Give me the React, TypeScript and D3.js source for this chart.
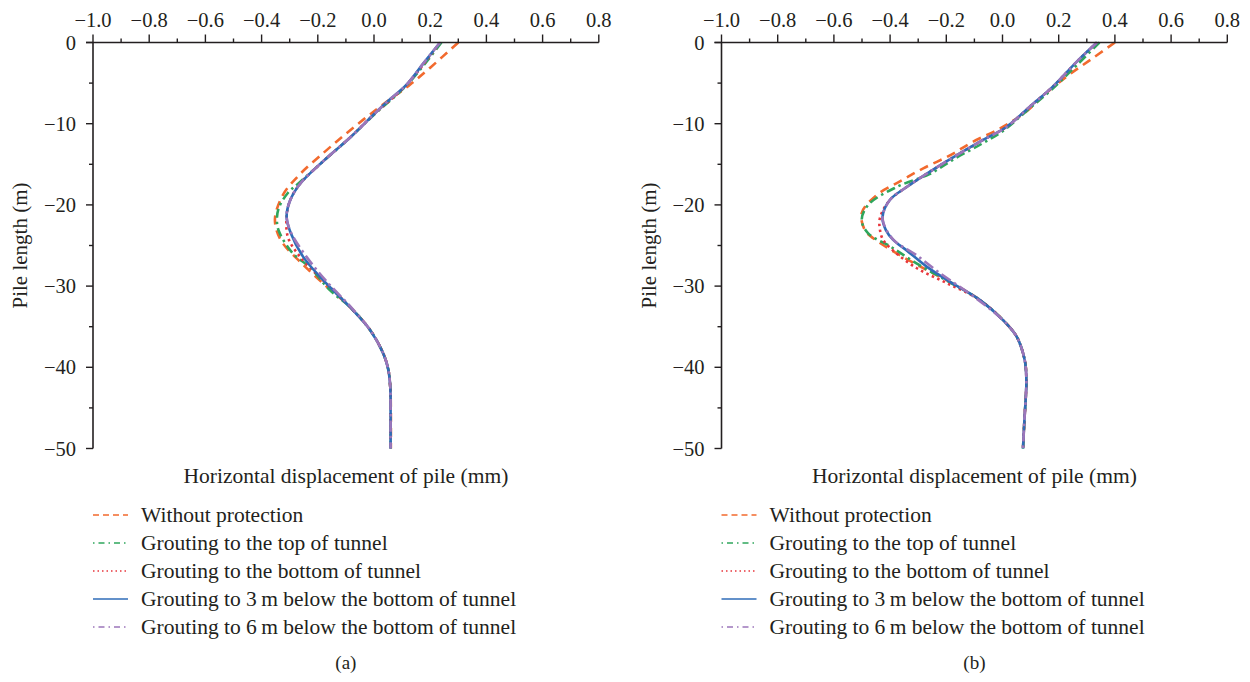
import React from "react";
import * as d3 from "d3";

type P = [number, number]; // [displacement mm, depth m]

// ---------- Panel (a) ----------
const aWithout: P[] = [[0.30,0],[0.2,-3.1],[0.128,-5.2],[0.033,-7.6],[-0.038,-9.5],[-0.109,-11.5],[-0.18,-13.6],[-0.263,-16.2],[-0.323,-18.7],[-0.352,-21.5],[-0.346,-23.2],[-0.323,-24.8],[-0.263,-27],[-0.18,-29.7],[-0.085,-32.6],[-0.014,-35.4],[0.033,-38.3],[0.051,-40.3],[0.058,-42.5],[0.06,-45],[0.06,-50]];
const aTop: P[] = [[0.24,0],[0.118,-5.2],[0.0,-8.9],[-0.085,-11.7],[-0.18,-14.6],[-0.27,-17.4],[-0.306,-18.5],[-0.34,-20.5],[-0.345,-22.3],[-0.334,-23.6],[-0.288,-26],[-0.228,-27.7],[-0.157,-30.5],[-0.085,-32.6],[-0.014,-35.4],[0.033,-38.3],[0.051,-40.3],[0.058,-42.5],[0.059,-45],[0.059,-50]];
const aBottom: P[] = [[0.235,0],[0.116,-5.2],[-0.002,-8.9],[-0.085,-11.7],[-0.18,-14.6],[-0.263,-17.4],[-0.299,-19.5],[-0.311,-21.5],[-0.306,-24],[-0.263,-26.4],[-0.192,-28.9],[-0.085,-32.6],[-0.014,-35.4],[0.033,-38.3],[0.051,-40.3],[0.058,-42.5],[0.059,-45],[0.059,-50]];
const a3m: P[] = [[0.235,0],[0.175,-2.6],[0.116,-5.2],[0.05,-7.2],[-0.002,-8.9],[-0.085,-11.7],[-0.18,-14.6],[-0.263,-17.4],[-0.299,-19.5],[-0.311,-21.5],[-0.296,-23.5],[-0.252,-26.4],[-0.18,-29.3],[-0.085,-32.6],[-0.014,-35.4],[0.033,-38.3],[0.051,-40.3],[0.058,-42.5],[0.059,-45],[0.059,-50]];
const a6m: P[] = [[0.235,0],[0.175,-2.6],[0.116,-5.2],[0.05,-7.2],[-0.002,-8.9],[-0.085,-11.7],[-0.18,-14.6],[-0.263,-17.4],[-0.299,-19.5],[-0.311,-21.5],[-0.294,-23.5],[-0.24,-26.4],[-0.172,-29.3],[-0.082,-32.6],[-0.014,-35.4],[0.033,-38.3],[0.051,-40.3],[0.058,-42.5],[0.059,-45],[0.059,-50]];

// ---------- Panel (b) ----------
const bWithout: P[] = [[0.40,0],[0.31,-2.2],[0.228,-4.2],[0.15,-6.4],[0.085,-8.5],[-0.01,-10.6],[-0.104,-12.2],[-0.187,-13.9],[-0.282,-15.5],[-0.365,-17.1],[-0.448,-18.8],[-0.501,-21],[-0.49,-23.1],[-0.46,-24.1],[-0.365,-26.2],[-0.27,-28],[-0.176,-29.7],[-0.081,-31.7],[0.002,-34.2],[0.05,-36.2],[0.079,-39.1],[0.085,-41.6],[0.083,-43.6],[0.078,-46.5],[0.073,-50]];
const bTop: P[] = [[0.345,0],[0.27,-2.6],[0.175,-5.8],[0.09,-8.3],[0.005,-10.8],[-0.075,-12.5],[-0.17,-14.3],[-0.26,-16.2],[-0.377,-17.8],[-0.478,-20],[-0.501,-21.9],[-0.478,-23.5],[-0.4,-25.1],[-0.306,-27.2],[-0.2,-29.3],[-0.081,-31.7],[0.002,-34.2],[0.05,-36.2],[0.079,-39.1],[0.085,-41.6],[0.083,-43.6],[0.078,-46.5],[0.073,-50]];
const bBottom: P[] = [[0.336,0],[0.269,-2.2],[0.18,-5.4],[0.097,-7.9],[0.014,-10.4],[-0.069,-12],[-0.164,-13.9],[-0.258,-15.9],[-0.341,-17.8],[-0.401,-19.4],[-0.436,-21.6],[-0.436,-23.1],[-0.425,-24.3],[-0.39,-25.6],[-0.305,-27.8],[-0.2,-29.6],[-0.081,-31.7],[0.002,-34.2],[0.05,-36.2],[0.079,-39.1],[0.085,-41.6],[0.083,-43.6],[0.078,-46.5],[0.073,-50]];
const b3m: P[] = [[0.336,0],[0.269,-2.2],[0.18,-5.4],[0.097,-7.9],[0.014,-10.4],[-0.069,-12],[-0.164,-13.9],[-0.258,-15.9],[-0.341,-17.8],[-0.401,-19.4],[-0.427,-21.5],[-0.415,-23.1],[-0.389,-24.3],[-0.341,-25.6],[-0.27,-27.6],[-0.176,-29.7],[-0.081,-31.7],[0.002,-34.2],[0.05,-36.2],[0.079,-39.1],[0.085,-41.6],[0.083,-43.6],[0.078,-46.5],[0.073,-50]];
const b6m: P[] = [[0.336,0],[0.269,-2.2],[0.18,-5.4],[0.097,-7.9],[0.014,-10.4],[-0.069,-12],[-0.164,-13.9],[-0.258,-15.9],[-0.341,-17.8],[-0.401,-19.4],[-0.427,-21.5],[-0.413,-23.1],[-0.382,-24.5],[-0.306,-26.2],[-0.223,-28.4],[-0.13,-30.6],[-0.06,-32.4],[0.002,-34.2],[0.05,-36.2],[0.079,-39.1],[0.085,-41.6],[0.083,-43.6],[0.078,-46.5],[0.073,-50]];

const seriesNames = [
  "Without protection",
  "Grouting to the top of tunnel",
  "Grouting to the bottom of tunnel",
  "Grouting to 3\u2009m below the bottom of tunnel",
  "Grouting to 6\u2009m below the bottom of tunnel",
];
const xTicks = [-1.0, -0.8, -0.6, -0.4, -0.2, 0.0, 0.2, 0.4, 0.6, 0.8];
const yTicks = [0, -10, -20, -30, -40, -50];

const colors = ["#f26a2e", "#2fa65c", "#e8363c", "#2f6cb8", "#9c76ba"];
const curveDash = ["9,6", "9,4,2.5,4", "2.5,3.5", "none", "11,4,2.5,4"];
const legendDash = ["6,4", "1.5,4,6,4", "1.5,3", "none", "1.5,4,6,4"];

const FONT = "'Liberation Serif', 'DejaVu Serif', serif";
const INK = "#231f20";
const fmt = (v: number) => {
  const s = Math.abs(v).toFixed(1);
  return v < 0 ? "\u2212" + s : s;
};
const fmtY = (v: number) => (v < 0 ? "\u2212" + Math.abs(v) : String(v));

function Panel({ left, data, label }: { left: number; data: P[][]; label: string }) {
  const x = d3.scaleLinear().domain([-1, 0.8]).range([left, left + 1.8 * 281]);
  const y = d3.scaleLinear().domain([0, -50]).range([42.5, 448.5]);
  const line = d3
    .line<P>()
    .x((d) => x(d[0]))
    .y((d) => y(d[1]))
    .curve(d3.curveCatmullRom.alpha(0.5));
  const minorX = d3.range(-1, 0.81, 0.1);
  const minorY = d3.range(0, -50.1, -5);
  const cx = x(-0.1);
  const legendTop = 515;
  const rowH = 28;
  return (
    <g>
      {data.map((s, i) => (
        <path
          key={i}
          d={line(s) || ""}
          fill="none"
          stroke={colors[i]}
          strokeWidth={2.6}
          strokeDasharray={curveDash[i]}
          strokeLinecap="butt"
        />
      ))}
      <line x1={x(-1) - 7} x2={x(0.8)} y1={y(0)} y2={y(0)} stroke={INK} strokeWidth={1.6} />
      <line x1={x(-1)} x2={x(-1)} y1={y(0)} y2={y(-50)} stroke={INK} strokeWidth={1.6} />
      {minorX.map((v, i) => {
        const major = i % 2 === 0;
        return (
          <line key={"mx" + i} x1={x(v)} x2={x(v)} y1={y(0)} y2={y(0) - (major ? 8 : 4)} stroke={INK} strokeWidth={1.4} />
        );
      })}
      {minorY.map((v, i) => {
        const major = i % 2 === 0;
        return (
          <line key={"my" + i} x1={x(-1)} x2={x(-1) - (major ? 7 : 4)} y1={y(v)} y2={y(v)} stroke={INK} strokeWidth={1.4} />
        );
      })}
      {xTicks.map((v) => (
        <text key={"xt" + v} x={x(v)} y={27} textAnchor="middle" fontFamily={FONT} fontSize={20.5} fill={INK}>
          {fmt(v)}
        </text>
      ))}
      {yTicks.map((v) => (
        <text key={"yt" + v} x={x(-1) - 17} y={y(v)} dy="0.35em" textAnchor="end" fontFamily={FONT} fontSize={20.5} fill={INK}>
          {fmtY(v)}
        </text>
      ))}
      <text
        transform={`translate(${x(-1) - 73},${y(-25)}) rotate(-90)`}
        textAnchor="middle"
        dy="0.35em"
        fontFamily={FONT}
        fontSize={21}
        fill={INK}
      >
        Pile length (m)
      </text>
      <text x={cx} y={475} dy="0.35em" textAnchor="middle" fontFamily={FONT} fontSize={21.5} fill={INK}>
        Horizontal displacement of pile (mm)
      </text>
      {seriesNames.map((n, i) => (
        <g key={"lg" + i}>
          <line
            x1={x(-1)}
            x2={x(-1) + 35}
            y1={legendTop + i * rowH}
            y2={legendTop + i * rowH}
            stroke={colors[i]}
            strokeWidth={1.4}
            strokeDasharray={legendDash[i]}
          />
          <text x={x(-1) + 48} y={legendTop + i * rowH} dy="0.33em" fontFamily={FONT} fontSize={21.5} fill={INK}>
            {n}
          </text>
        </g>
      ))}
      <text x={cx} y={662} dy="0.35em" textAnchor="middle" fontFamily={FONT} fontSize={19} fill={INK}>
        {label}
      </text>
    </g>
  );
}

export default function App() {
  return (
    <svg width={1250} height={682} style={{ position: "absolute", left: 0, top: 0, background: "#fff" }}>
      <rect width={1250} height={682} fill="#fff" />
      <Panel left={93} data={[aWithout, aTop, aBottom, a3m, a6m]} label="(a)" />
      <Panel left={721.5} data={[bWithout, bTop, bBottom, b3m, b6m]} label="(b)" />
    </svg>
  );
}
